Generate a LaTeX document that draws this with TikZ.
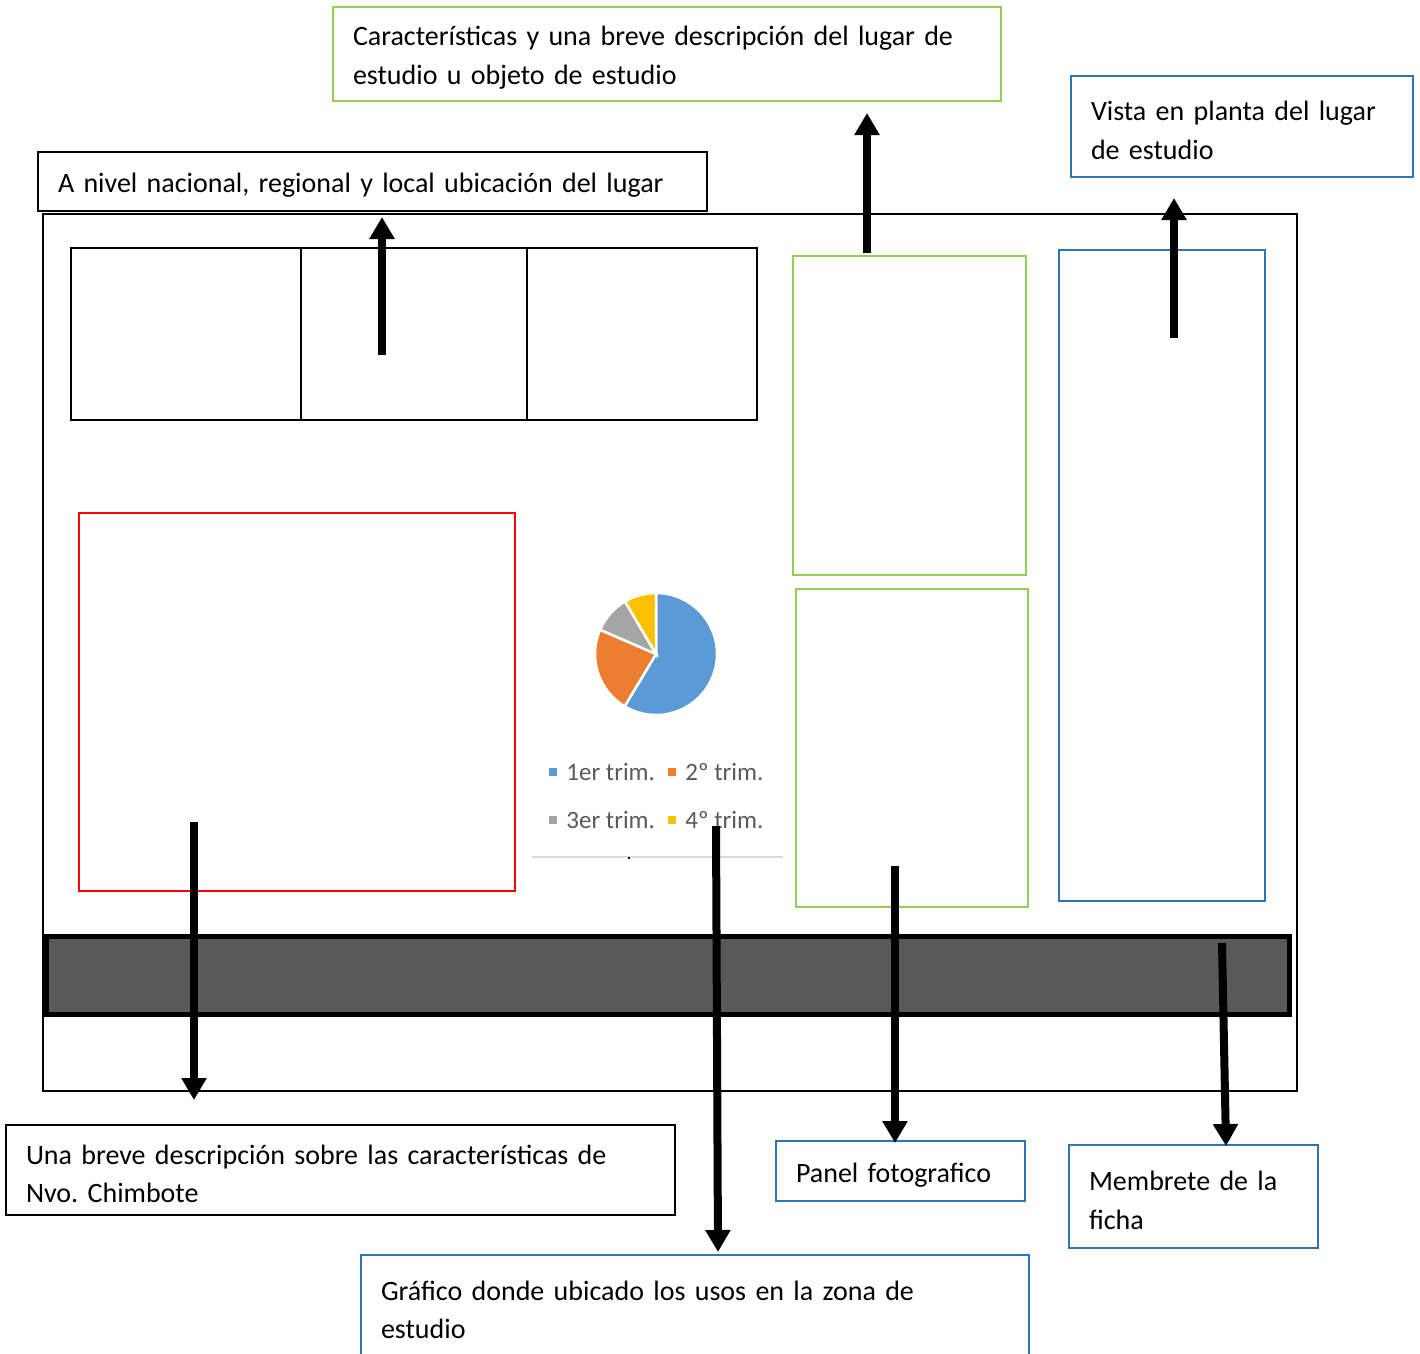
\documentclass[tikz,border=0pt]{standalone}
\usepackage{fontspec}
\setmainfont{Carlito}
\usetikzlibrary{arrows.meta,positioning}
\definecolor{boxgreen}{RGB}{146,208,80}
\definecolor{boxblue}{RGB}{46,117,182}
\definecolor{bandgray}{RGB}{89,89,89}
\definecolor{pieblue}{RGB}{91,155,213}
\definecolor{pieorange}{RGB}{237,125,49}
\definecolor{piegray}{RGB}{165,165,165}
\definecolor{pieyellow}{RGB}{255,192,0}
\definecolor{legendtext}{RGB}{89,89,89}
\frenchspacing

\begin{document}
\begin{tikzpicture}[
  x=1pt, y=-1pt,
  frame/.style={rectangle, draw=black, line width=2pt, inner sep=0pt,
                outer sep=0pt, anchor=north west},
  callout/.style={rectangle, draw=black, line width=1.3pt, fill=white,
                  anchor=north west, inner xsep=20pt, inner ysep=0pt,
                  outer sep=0pt, align=left,
                  font=\fontsize{28}{38.5}\selectfont,
                  execute at begin node={\rule{0pt}{27pt}}},
  legendkey/.style={rectangle, inner sep=0pt, minimum size=8pt},
  legendlabel/.style={anchor=west, inner sep=0pt, text=legendtext,
                      font=\fontsize{25}{28}\selectfont},
  arr/.style={-{Triangle[length=22pt,width=24pt]}, line width=8pt, black}
]
\useasboundingbox (0,0) rectangle (1420,1353);
% sheet and its panels
\node[frame, minimum width=1254pt, minimum height=877pt] (sheet) at (43,214) {};
\node[frame, minimum width=230pt, minimum height=172pt] (mapa1) at (71,248) {};
\node[frame, minimum width=226pt, minimum height=172pt] (mapa2) at (301,248) {};
\node[frame, minimum width=230pt, minimum height=172pt] (mapa3) at (527,248) {};
\node[frame, draw=red, minimum width=436pt, minimum height=378pt] (texto) at (79,513) {};
\node[frame, draw=boxgreen, minimum width=233pt, minimum height=319pt] (datos) at (793,256) {};
\node[frame, draw=boxgreen, minimum width=232pt, minimum height=318pt] (fotos) at (796,589) {};
\node[frame, draw=boxblue, minimum width=206pt, minimum height=651pt] (planta) at (1059,250) {};
\node[frame, line width=5pt, fill=bandgray, minimum width=1243pt, minimum height=78pt] (membrete) at (46.5,936.5) {};

% pie chart with legend (y runs downwards, so angles turn clockwise)
\coordinate (pie) at (656,654);
\begin{scope}[draw=white, line width=2.5pt]
  \filldraw[fill=pieblue] (pie) -- ++(-90:61) arc[start angle=-90, end angle=121, radius=61] -- cycle;
  \filldraw[fill=pieorange] (pie) -- ++(121:61) arc[start angle=121, end angle=203.5, radius=61] -- cycle;
  \filldraw[fill=piegray] (pie) -- ++(203.5:61) arc[start angle=203.5, end angle=239.5, radius=61] -- cycle;
  \filldraw[fill=pieyellow] (pie) -- ++(239.5:61) arc[start angle=239.5, end angle=270, radius=61] -- cycle;
\end{scope}
\node[legendkey, fill=pieblue] (k1) at (553,772) {};
\node[legendlabel, right=9pt of k1] (l1) {1er trim.};
\node[legendkey, fill=pieorange] (k2) at (672,772) {};
\node[legendlabel, right=9pt of k2] (l2) {2º trim.};
\node[legendkey, fill=piegray] (k3) at (553,820) {};
\node[legendlabel, right=9pt of k3] (l3) {3er trim.};
\node[legendkey, fill=pieyellow] (k4) at (672,820) {};
\node[legendlabel, right=9pt of k4] (l4) {4º trim.};
\coordinate (baseL) at (532,857);
\coordinate (baseR) at (783,857);
\coordinate (tick) at (629,857);
\draw[black!15, line width=2pt] (baseL) -- (baseR);
\draw[black, line width=2pt] (tick) -- ++(0,2);

% callouts
\node[callout, draw=boxgreen, text width=628pt, minimum height=94pt] (cCarac) at (333,7)
  {Características y una breve descripción del lugar de\\estudio u objeto de estudio};
\node[callout, draw=boxblue, text width=302pt, minimum height=101pt] (cVista) at (1071,76)
  {Vista en planta del lugar\\de estudio};
\node[callout, text width=629pt, minimum height=59pt] (cNivel) at (38,152)
  {A nivel nacional, regional y local ubicación del lugar};
\node[callout, text width=629pt, minimum height=90pt] (cDesc) at (6,1125)
  {Una breve descripción sobre las características de\\Nvo. Chimbote};
\node[callout, draw=boxblue, text width=209pt, minimum height=60pt] (cPanel) at (776,1141)
  {Panel fotografico};
\node[callout, draw=boxblue, text width=209pt, minimum height=103pt] (cMemb) at (1069,1145)
  {Membrete de la\\ficha};
\node[callout, draw=boxblue, text width=628pt, minimum height=102pt] (cGraf) at (361,1255)
  {Gráfico donde ubicado los usos en la zona de\\estudio};

% arrows
\coordinate (tNivel) at (382,355);   \coordinate (hNivel) at (382,217);
\coordinate (tCarac) at (867,253);   \coordinate (hCarac) at (867,113);
\coordinate (tVista) at (1174,338);  \coordinate (hVista) at (1174,198);
\coordinate (tDesc) at (194,822);    \coordinate (hDesc) at (194,1100);
\coordinate (tGraf) at (716,826);    \coordinate (hGraf) at (718,1252);
\coordinate (tPanel) at (895,866);   \coordinate (hPanel) at (895,1143);
\coordinate (tMemb) at (1222,943);   \coordinate (hMemb) at (1226,1146);
\draw[arr] (tNivel) -- (hNivel);
\draw[arr] (tCarac) -- (hCarac);
\draw[arr] (tVista) -- (hVista);
\draw[arr] (tDesc) -- (hDesc);
\draw[arr] (tGraf) -- (hGraf);
\draw[arr] (tPanel) -- (hPanel);
\draw[arr] (tMemb) -- (hMemb);
\end{tikzpicture}
\end{document}
